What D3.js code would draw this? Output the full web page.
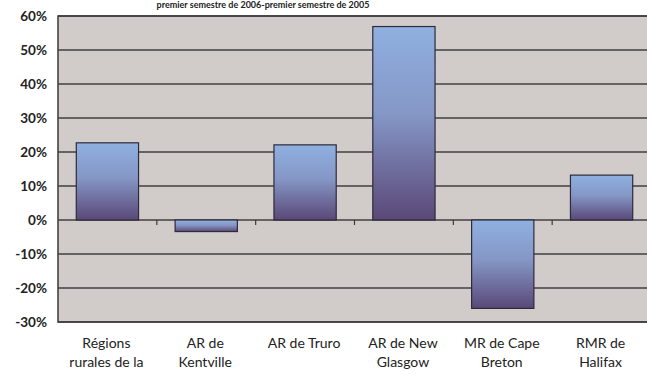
<!DOCTYPE html>
<html><head><meta charset="utf-8">
<script src="https://cdn.jsdelivr.net/npm/d3@7/dist/d3.min.js"></script>
<style>
html,body{margin:0;padding:0;background:#fff;overflow:hidden;}
svg{display:block;font-family:Lato, "Open Sans", sans-serif;}
</style></head>
<body>
<svg id="c" width="647" height="375"></svg>
<script>
const categories = [
  ["Régions", "rurales de la"],
  ["AR de", "Kentville"],
  ["AR de Truro"],
  ["AR de New", "Glasgow"],
  ["MR de Cape", "Breton"],
  ["RMR de", "Halifax"]
];
const values = [22.7, -3.4, 22.1, 56.9, -26.0, 13.2];
const yTicks = [60, 50, 40, 30, 20, 10, 0, -10, -20, -30];
const titleLine = "premier semestre de 2006-premier semestre de 2005";

(function(){
const svg = d3.select("#c");
const pL = 58, pR = 651, pT = 16, pB = 322;

const x = d3.scaleBand().domain(d3.range(categories.length)).range([pL, pR]).paddingInner(0.37).paddingOuter(0.185);
const xb = d3.scaleBand().domain(d3.range(categories.length)).range([pL, pR]);
const y = d3.scaleLinear().domain([-30, 60]).range([pB, pT]);

const defs = svg.append("defs");
const g = defs.append("linearGradient").attr("id","barGrad").attr("x1",0).attr("y1",0).attr("x2",0).attr("y2",1);
g.append("stop").attr("offset","0%").attr("stop-color","#8fb0e0");
g.append("stop").attr("offset","45%").attr("stop-color","#8597c6");
g.append("stop").attr("offset","100%").attr("stop-color","#5a4878");

svg.append("text").attr("x",263).attr("y",8).attr("text-anchor","middle")
  .attr("font-size",9).attr("font-weight","bold").attr("fill","#222").text(titleLine);

svg.append("rect").attr("x",pL).attr("y",pT).attr("width",pR-pL).attr("height",pB-pT)
  .attr("fill","#d1ccc9").attr("stroke","#3a3a3a").attr("stroke-width",1.5);

svg.append("g").selectAll("line").data(yTicks).join("line")
  .attr("x1",pL).attr("x2",pR).attr("y1",d=>y(d)).attr("y2",d=>y(d))
  .attr("stroke","#3f3f3f").attr("stroke-width",1.6);

svg.append("g").selectAll("rect").data(values).join("rect")
  .attr("x",(d,i)=>x(i)).attr("width",x.bandwidth())
  .attr("y",d=>y(Math.max(0,d))).attr("height",d=>Math.abs(y(d)-y(0)))
  .attr("fill","url(#barGrad)").attr("stroke","#2e2a3a").attr("stroke-width",1.2);

svg.append("g").selectAll("line").data(d3.range(1,categories.length)).join("line")
  .attr("x1",i=>xb(i)).attr("x2",i=>xb(i)).attr("y1",y(0)).attr("y2",y(0)+5)
  .attr("stroke","#3a3a3a").attr("stroke-width",1.2);

svg.append("g").selectAll("text").data(yTicks).join("text")
  .attr("x",47).attr("y",d=>y(d)).attr("dy","0.35em").attr("text-anchor","end")
  .attr("font-size",13.5).attr("font-weight","bold").attr("fill","#222")
  .text(d=>d+"%");

const xl = svg.append("g").selectAll("text").data(categories).join("text")
  .attr("x",(d,i)=>xb(i)+xb.bandwidth()/2 - 1).attr("y",348)
  .attr("text-anchor","middle").attr("font-size",14).attr("fill","#222");
xl.each(function(lines){
  const t = d3.select(this);
  lines.forEach((l,k)=>t.append("tspan").attr("x",t.attr("x")).attr("dy",k?19:0).text(l));
});
})();
</script>
</body></html>
